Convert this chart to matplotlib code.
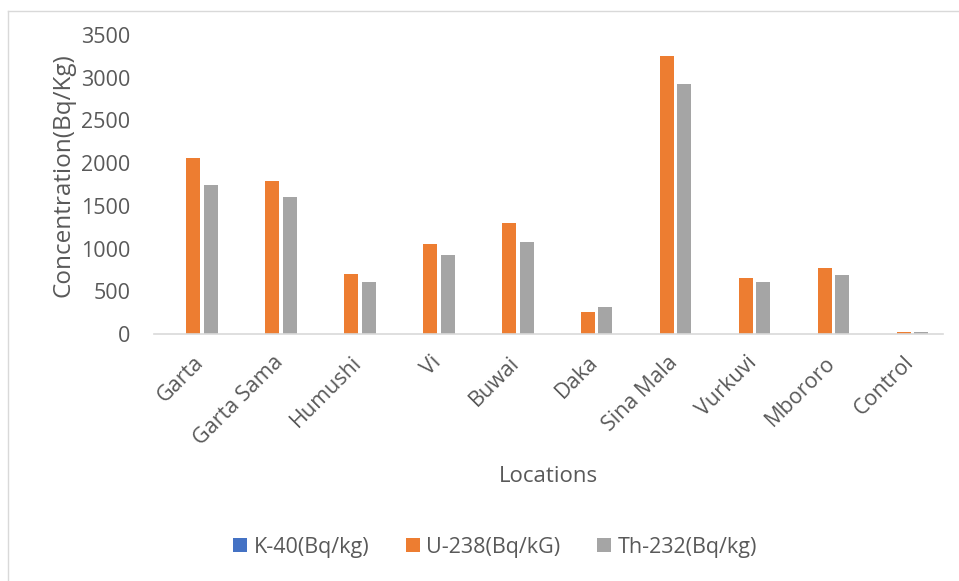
import matplotlib.pyplot as plt
import numpy as np
from matplotlib.lines import Line2D

locations = ["Garta", "Garta Sama", "Humushi", "Vi", "Buwai", "Daka",
             "Sina Mala", "Vurkuvi", "Mbororo", "Control"]
k40 = [0, 0, 0, 0, 0, 0, 0, 0, 0, 0]
u238 = [2056, 1790, 702, 1053, 1295, 257, 3260, 655, 769, 25]
th232 = [1740, 1606, 608, 924, 1080, 316, 2925, 605, 687, 20]
series_names = ["K-40(Bq/kg)", "U-238(Bq/kG)", "Th-232(Bq/kg)"]
colors = ["#4472C4", "#ED7D31", "#A5A5A5"]
text_color = "#595959"

plt.rcParams["font.family"] = ["Open Sans", "DejaVu Sans"]

fig = plt.figure(figsize=(9.59, 5.81), dpi=100)
ax = fig.add_axes([154 / 959, 1 - 334 / 581, 789 / 959, 299 / 581])

x = np.arange(len(locations))
width = 0.177
step = 0.222
for i, (vals, name, c) in enumerate(zip([k40, u238, th232], series_names, colors)):
    ax.bar(x + (i - 1) * step, vals, width, color=c, label=name,
           linewidth=0)

ax.set_xlim(-0.5, len(locations) - 0.5)
ax.set_ylim(0, 3500)
ax.set_yticks(range(0, 3501, 500))
ax.set_xticks(x)
ax.set_xticklabels(locations, rotation=45, ha="right", rotation_mode="anchor")
ax.tick_params(axis="y", length=0, pad=17, labelsize=15.5, labelcolor=text_color)
ax.tick_params(axis="x", length=0, pad=13, labelsize=15.5, labelcolor=text_color)

for side in ["top", "right", "left"]:
    ax.spines[side].set_visible(False)
ax.spines["bottom"].set_color("#D9D9D9")
ax.spines["bottom"].set_linewidth(1.2)

ax.set_ylabel("Concentration(Bq/Kg)", fontsize=17.5, color=text_color)
ax.yaxis.set_label_coords(-0.100, 0.53)
ax.set_xlabel("Locations", fontsize=16, color=text_color)
ax.xaxis.set_label_coords(0.5, -0.441)

fig.legend(loc="center", bbox_to_anchor=(495 / 959, 1 - 547 / 581), ncol=3,
           frameon=False, fontsize=15.5, labelcolor=text_color,
           handlelength=0.65, handleheight=0.65, handletextpad=0.3,
           columnspacing=1.7)

# outer frame edges
fig.add_artist(Line2D([8 / 959, 8 / 959], [0, 1 - 11 / 581],
                      transform=fig.transFigure, color="#D9D9D9", lw=1))
fig.add_artist(Line2D([8 / 959, 1], [1 - 11 / 581, 1 - 11 / 581],
                      transform=fig.transFigure, color="#D9D9D9", lw=1))

fig.savefig("out.png", dpi=100)
